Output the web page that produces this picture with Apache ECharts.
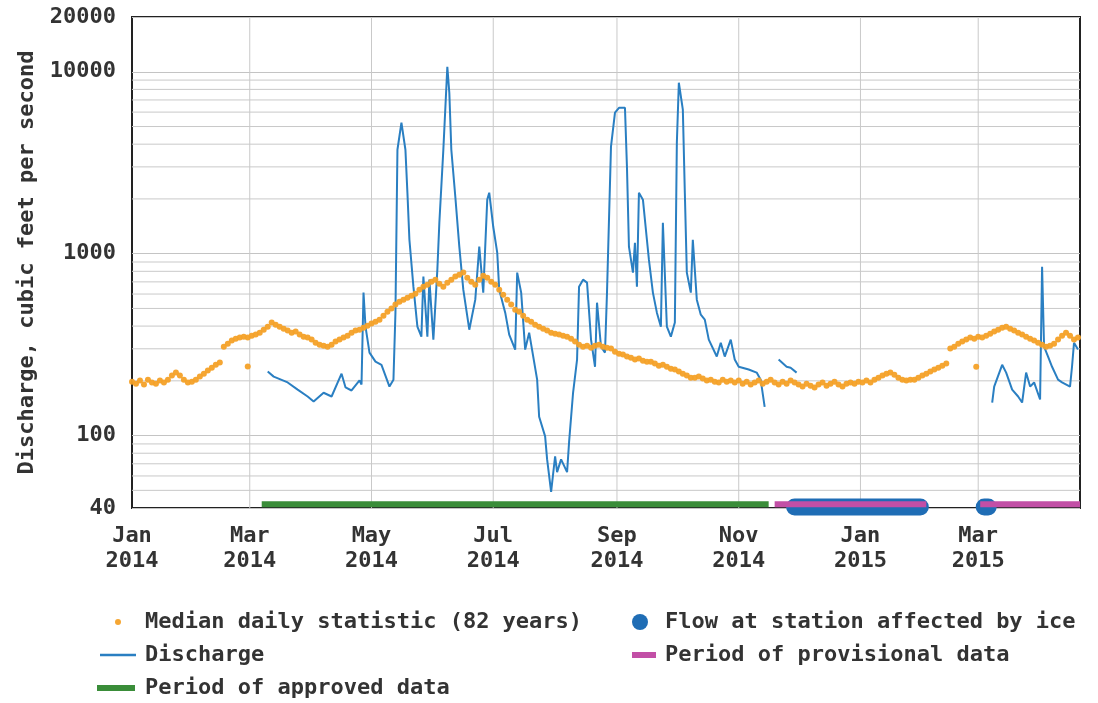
<!DOCTYPE html>
<html>
<head>
<meta charset="utf-8">
<script src="https://cdn.jsdelivr.net/npm/echarts@6/dist/echarts.min.js"></script>
<style>
  html, body { margin: 0; padding: 0; background: #fff; }
  #main { width: 1098px; height: 703px; }
</style>
</head>
<body>
<div id="main"></div>
<script>
var axisStart = '2014-01-01';
var axisEnd = '2015-04-21';
var monthTicks = ['2014-01-01', '2014-03-01', '2014-05-01', '2014-07-01', '2014-09-01',
                  '2014-11-01', '2015-01-01', '2015-03-01'];
var yMin = 40, yMax = 20000;
var minorGrid = [50, 60, 70, 80, 90, 200, 300, 400, 500, 600, 700, 800, 900,
                 2000, 3000, 4000, 5000, 6000, 7000, 8000, 9000];

// median daily statistic, one value every 2 days from medianStart
var medianStart = '2014-01-01';
var medianStepDays = 2;
var medianValues = [
  198, 193, 201, 191, 203, 196, 193, 201, 196, 203, 214,
  222, 214, 203, 196,
  198, 203, 211, 219, 228, 236, 245,
  252, 308,
  320, 333, 341, 346, 350, 346,
  354, 359, 368, 382, 397, 418,
  407, 397, 387, 378, 368, 373, 359, 350, 346, 337, 324, 316, 312, 308, 316,
  329, 337, 346, 354, 368, 378, 382, 392, 402, 413,
  423, 434, 456, 480, 499, 525, 545, 559, 573, 588,
  603, 634, 659, 675, 702, 720, 684, 659, 693, 720,
  748, 767, 787, 738, 702, 675, 720, 757, 738, 702,
  675, 634, 595, 559, 525, 492, 480, 456, 434, 423,
  407, 397, 387, 378, 368, 363, 359, 354, 350, 341,
  329, 316, 308, 312, 304, 312, 316, 308, 304, 301,
  289, 282, 279, 272, 268, 262, 265, 258, 255, 255,
  249, 242, 245, 239, 233, 231, 225, 219, 214, 208,
  208, 211, 206, 201, 203, 198, 196, 203, 198, 201,
  196, 201, 193, 198, 191, 196, 201, 193, 198, 203, 196, 191, 198, 193, 201,
  196, 191, 186, 193, 188, 184, 191, 196, 188, 193, 198, 191, 186, 193, 196,
  193, 198, 196, 201, 196, 203, 208, 214, 219, 222, 216, 208, 203, 201, 203,
  203, 208, 214, 219, 225, 231, 236, 242, 249,
  301, 308, 320, 329, 337, 346, 341, 350, 346, 354, 363,
  373, 382, 392, 397, 387, 378, 368, 359, 350, 341,
  333, 324, 316, 308, 312, 320, 337, 354, 368, 354, 337, 346
];
// the two leap-day medians that sit below the band
var medianOddDates = ['2014-02-28', '2015-02-28'];
var medianOddValues = [240, 239];

var dischargeDates = [
  '2014-03-10', '2014-03-13', '2014-03-20', '2014-03-25', '2014-03-30', '2014-04-02',
  '2014-04-07', '2014-04-11', '2014-04-16', '2014-04-18', '2014-04-21', '2014-04-25',
  '2014-04-26', '2014-04-27', '2014-04-28', '2014-04-30', '2014-05-03', '2014-05-06',
  '2014-05-10', '2014-05-12', '2014-05-13', '2014-05-14', '2014-05-16', '2014-05-18',
  '2014-05-19', '2014-05-20', '2014-05-22', '2014-05-24', '2014-05-26', '2014-05-27',
  '2014-05-29', '2014-05-30', '2014-06-01', '2014-06-03', '2014-06-04', '2014-06-06',
  '2014-06-08', '2014-06-09', '2014-06-10', '2014-06-12', '2014-06-14', '2014-06-16',
  '2014-06-19', '2014-06-22', '2014-06-24', '2014-06-26', '2014-06-28', '2014-06-29',
  '2014-07-01', '2014-07-03', '2014-07-04', '2014-07-07', '2014-07-09', '2014-07-12',
  '2014-07-13', '2014-07-15', '2014-07-17', '2014-07-19', '2014-07-23', '2014-07-24',
  '2014-07-27', '2014-07-28', '2014-07-30', '2014-08-01', '2014-08-02', '2014-08-04',
  '2014-08-07', '2014-08-08', '2014-08-10', '2014-08-12', '2014-08-13', '2014-08-15',
  '2014-08-17', '2014-08-19', '2014-08-21', '2014-08-22', '2014-08-24', '2014-08-26',
  '2014-08-27', '2014-08-29', '2014-08-31', '2014-09-02', '2014-09-05', '2014-09-06',
  '2014-09-07', '2014-09-09', '2014-09-10', '2014-09-11', '2014-09-12', '2014-09-14',
  '2014-09-16', '2014-09-17', '2014-09-19', '2014-09-21', '2014-09-23', '2014-09-24',
  '2014-09-26', '2014-09-28', '2014-09-30', '2014-10-01', '2014-10-02', '2014-10-04',
  '2014-10-05', '2014-10-06', '2014-10-08', '2014-10-09', '2014-10-11', '2014-10-13',
  '2014-10-15', '2014-10-17', '2014-10-21', '2014-10-23', '2014-10-25', '2014-10-28',
  '2014-10-30', '2014-11-01', '2014-11-06', '2014-11-10', '2014-11-12', '2014-11-14',
  '2014-11-17',
  '2014-11-21', '2014-11-25', '2014-11-27', '2014-11-30',
  '2014-12-15',
  '2015-03-08', '2015-03-09', '2015-03-13', '2015-03-15', '2015-03-18', '2015-03-21',
  '2015-03-23', '2015-03-25', '2015-03-27', '2015-03-29', '2015-04-01', '2015-04-02',
  '2015-04-03', '2015-04-05', '2015-04-07', '2015-04-10', '2015-04-12', '2015-04-16',
  '2015-04-17', '2015-04-18', '2015-04-20'
];
var dischargeValues = [
  225, 211, 196, 179, 164, 154,
  172, 164, 219, 184, 177, 201,
  191, 611, 397, 286, 255, 245,
  186, 203, 474, 3726, 5250, 3726,
  2163, 1193, 659, 397, 350, 748,
  350, 720, 337, 817, 1479, 3726,
  10650, 7670, 3726, 2056, 1093, 634,
  382, 559, 1093, 611, 1982, 2163,
  1406, 1013, 634, 474, 359, 297,
  787, 611, 297, 368, 203, 127,
  99, 74, 49, 77, 63, 74,
  63, 92, 172, 262, 659, 720,
  693, 337, 239, 538, 308, 286,
  611, 3872, 5960, 6340, 6340, 3006,
  1093, 787, 1149, 659, 2163, 1982,
  1193, 927, 611, 474, 397, 1479,
  397, 350, 418, 4075, 8700, 6185,
  2163, 787, 611, 1193, 559, 462,
  434, 337, 272, 324, 272, 337,
  262, 239, 231, 222, 203, 144,
  null,
  262, 239, 236, 222,
  null,
  152, 186, 245, 222, 179, 164,
  152, 222, 186, 196, 158, 848,
  308, 272, 239, 203, 196, 186,
  239, 324, 297
];

// qualification periods along the bottom of the plot
var approvedPeriods = [['2014-03-07', '2014-11-16']];
var provisionalPeriods = [['2014-11-19', '2015-02-03'], ['2015-03-02', '2015-04-21']];
var icePeriods = [['2014-11-29', '2015-01-31'], ['2015-03-04', '2015-03-06']];

// ---- chart ----
var FONT = "'DejaVu Sans Mono', monospace";
var MONTHS = ['Jan', 'Feb', 'Mar', 'Apr', 'May', 'Jun', 'Jul', 'Aug', 'Sep', 'Oct', 'Nov', 'Dec'];
var DAY = 86400000;
function t(s) { return Date.parse(s + 'T00:00:00Z'); }

var medianData = medianValues.map(function (v, i) {
  return [t(medianStart) + i * medianStepDays * DAY, v];
});
medianOddDates.forEach(function (d, i) { medianData.push([t(d), medianOddValues[i]]); });

var dischargeData = dischargeDates.map(function (d, i) {
  return [t(d), dischargeValues[i] == null ? '-' : dischargeValues[i]];
});

function periodData(periods, level) {
  var out = [];
  periods.forEach(function (p, i) {
    if (i > 0) out.push([(t(periods[i - 1][1]) + t(p[0])) / 2, '-']);
    out.push([t(p[0]), level], [t(p[1]), level]);
  });
  return out;
}
var bandLevel = 42;   // bars sit just above the 40 cfs floor
var iceLevel = 40.5;

// log gridlines (2..9 per decade) and the bimonthly verticals, broken apart with '-'
var hGridData = [];
minorGrid.forEach(function (v) {
  hGridData.push([t(axisStart), v], [t(axisEnd), v], [t(axisEnd), '-']);
});
var vGridData = [];
monthTicks.slice(1).forEach(function (d) {
  vGridData.push([t(d), yMin], [t(d), yMax], [t(d), '-']);
});

var textBase = { fontFamily: FONT, fontSize: 22, fontWeight: 'bold', color: '#333' };

function legendAt(name, left, top, icon, w, h, pad) {
  return {
    data: [name], left: left, top: top, icon: icon, itemWidth: w, itemHeight: h,
    padding: 0, selectedMode: false,
    textStyle: Object.assign({ padding: [0, 0, 0, pad], lineHeight: 24 }, textBase)
  };
}

function gridSeries(name, data) {
  return {
    name: name, type: 'line', symbol: 'none', silent: true, z: 1, data: data,
    lineStyle: { color: '#c9c9c9', width: 1 }, itemStyle: { color: '#c9c9c9' }
  };
}

var chart = echarts.init(document.getElementById('main'));
chart.setOption({
  animation: false,
  backgroundColor: '#fff',
  grid: { left: 132, right: 18, top: 17, bottom: 195, show: true, borderColor: '#222', borderWidth: 2 },
  legend: [
    legendAt('Median daily statistic (82 years)', 115, 610, 'circle', 6, 6, 19),
    legendAt('Discharge', 100, 643, 'rect', 36, 2.5, 4),
    legendAt('Period of approved data', 97, 676, 'rect', 38, 6, 5),
    legendAt('Flow at station affected by ice', 632, 610, 'circle', 16, 16, 12),
    legendAt('Period of provisional data', 632, 643, 'rect', 24, 6, 4)
  ],
  xAxis: [
    {
      // axis the series are drawn against; nothing of it is shown
      type: 'value', min: t(axisStart), max: t(axisEnd), show: false,
      splitLine: { show: false }
    },
    {
      // label-only twin with the same range
      type: 'value', min: t(axisStart), max: t(axisEnd), position: 'bottom',
      axisLine: { show: false }, axisTick: { show: false }, splitLine: { show: false },
      axisLabel: Object.assign({
        customValues: monthTicks.map(t), margin: 16, lineHeight: 25,
        formatter: function (v) {
          var d = new Date(v);
          return MONTHS[d.getUTCMonth()] + '\n' + d.getUTCFullYear();
        }
      }, textBase)
    }
  ],
  yAxis: {
    type: 'log', logBase: 10, min: yMin, max: yMax,
    name: 'Discharge, cubic feet per second', nameLocation: 'middle', nameGap: 94,
    nameTextStyle: textBase,
    axisLine: { show: false }, axisTick: { show: false },
    splitLine: { show: true, lineStyle: { color: '#c4c4c4', width: 1 } },
    axisLabel: Object.assign({
      margin: 16,
      formatter: function (v) { return String(Math.round(v)); }
    }, textBase)
  },
  series: [
    gridSeries('hgrid', hGridData),
    gridSeries('vgrid', vGridData),
    {
      name: 'Period of approved data', type: 'line', symbol: 'none', clip: false, z: 5,
      data: periodData(approvedPeriods, bandLevel),
      itemStyle: { color: '#3a8d39' }, lineStyle: { color: '#3a8d39', width: 6, cap: 'butt' }
    },
    {
      name: 'Flow at station affected by ice', type: 'line', symbol: 'none', clip: false, z: 6,
      data: periodData(icePeriods, iceLevel),
      itemStyle: { color: '#1f6db5' }, lineStyle: { color: '#1f6db5', width: 17, cap: 'round' }
    },
    {
      name: 'Period of provisional data', type: 'line', symbol: 'none', clip: false, z: 7,
      data: periodData(provisionalPeriods, bandLevel),
      itemStyle: { color: '#c24fa6' }, lineStyle: { color: '#c24fa6', width: 6, cap: 'butt' }
    },
    {
      name: 'Discharge', type: 'line', symbol: 'none', z: 3, connectNulls: false,
      data: dischargeData,
      itemStyle: { color: '#2a7fc2' }, lineStyle: { color: '#2a7fc2', width: 2 }
    },
    {
      name: 'Median daily statistic (82 years)', type: 'scatter', symbolSize: 6, z: 4,
      data: medianData,
      itemStyle: { color: '#f4a128', opacity: 0.95 }
    }
  ]
});
</script>
</body>
</html>
